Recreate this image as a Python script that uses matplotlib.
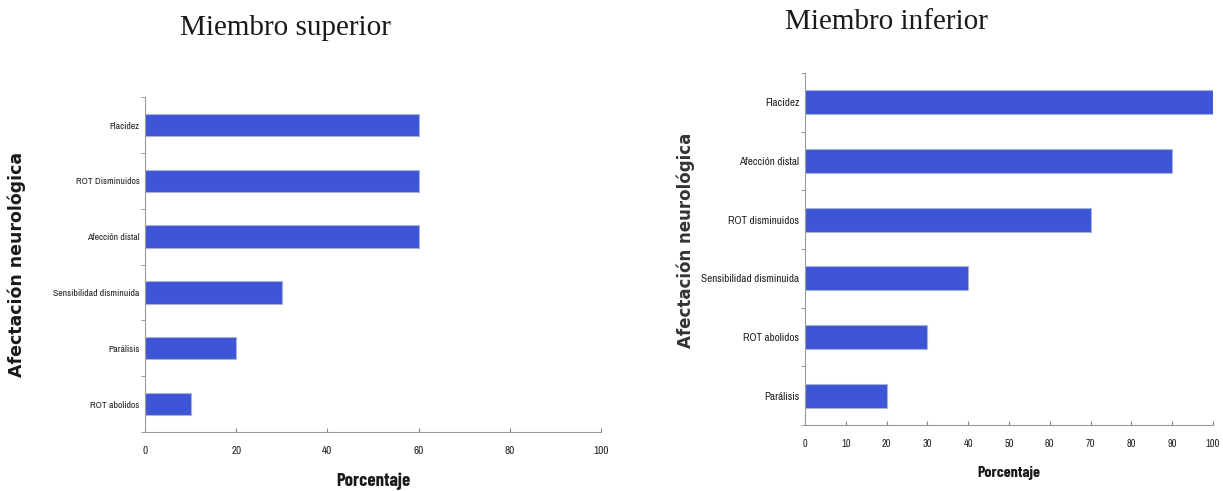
import matplotlib
matplotlib.use('Agg')
import matplotlib.pyplot as plt
import numpy as np

# upper limb
sup_labels = ['Flacidez', 'ROT Disminuidos', 'Afección distal',
              'Sensibilidad disminuida', 'Parálisis', 'ROT abolidos']
sup_values = [60, 60, 60, 30, 20, 10]

# lower limb
inf_labels = ['Flacidez', 'Afección distal', 'ROT disminuidos',
              'Sensibilidad disminuida', 'ROT abolidos', 'Parálisis']
inf_values = [100, 90, 70, 40, 30, 20]

sup_xticks = [0, 20, 40, 60, 80, 100]
inf_xticks = [0, 10, 20, 30, 40, 50, 60, 70, 80, 90, 100]

BAR = '#3d55d6'
narrow = ['Archivo Narrow', 'Liberation Sans', 'DejaVu Sans']
narrow_bold = ['Barlow Condensed', 'Archivo Narrow', 'DejaVu Sans']


def draw(ax, labels, values, xticks, bar_h, ytick_fs, xtick_fs, xlab_fs):
    n = len(labels)
    y = np.arange(n)[::-1]
    ax.barh(y, values, height=bar_h, color=BAR, edgecolor='#a9b3d8', linewidth=0.8)
    ax.set_xlim(0, 100)
    ax.set_ylim(-0.5, n - 0.5)
    ax.set_yticks(y)
    ax.set_yticklabels(labels, family=narrow, fontsize=ytick_fs, color='#222222')
    ax.set_yticks(np.arange(n + 1) - 0.5, minor=True)
    ax.tick_params(axis='y', which='major', length=0, pad=4)
    ax.tick_params(axis='y', which='minor', length=3, color='#888888', direction='out')
    ax.set_xticks(xticks)
    ax.set_xticklabels([str(t) for t in xticks], family=narrow, fontsize=xtick_fs, color='#222222')
    ax.tick_params(axis='x', length=3, color='#888888', direction='in', pad=10)
    for s in ['top', 'right']:
        ax.spines[s].set_visible(False)
    for s in ['left', 'bottom']:
        ax.spines[s].set_color('#9a9a9a')
        ax.spines[s].set_linewidth(0.8)
    ax.set_xlabel('Porcentaje', family=narrow_bold, fontsize=xlab_fs, fontweight='bold',
                  labelpad=12, color='#1a1a1a')


fig = plt.figure(figsize=(12.23, 4.91), dpi=100)

ax1 = fig.add_axes([0.1186, 0.1202, 0.3728, 0.682])
draw(ax1, sup_labels, sup_values, sup_xticks, 0.4, 7, 8, 13.5)
ax1.set_ylabel('Afectación neurológica', family='DejaVu Sans', fontsize=12.5,
               fontweight='bold', color='#1a1a1a')
ax1.yaxis.set_label_coords(-0.262, 0.5)

ax2 = fig.add_axes([0.6582, 0.1344, 0.3336, 0.717])
draw(ax2, inf_labels, inf_values, inf_xticks, 0.41, 8, 7.5, 11.5)
ax2.set_ylabel('Afectación neurológica', family='DejaVu Sans', fontsize=12,
               fontweight='bold', color='#333333')
ax2.yaxis.set_label_coords(-0.27, 0.525)

fig.text(0.233, 0.943, 'Miembro superior', family='Liberation Serif', fontsize=21,
         ha='center', va='center', color='#1a1a1a')
fig.text(0.725, 0.955, 'Miembro inferior', family='Liberation Serif', fontsize=21,
         ha='center', va='center', color='#1a1a1a')

fig.savefig('out.png', dpi=100)
